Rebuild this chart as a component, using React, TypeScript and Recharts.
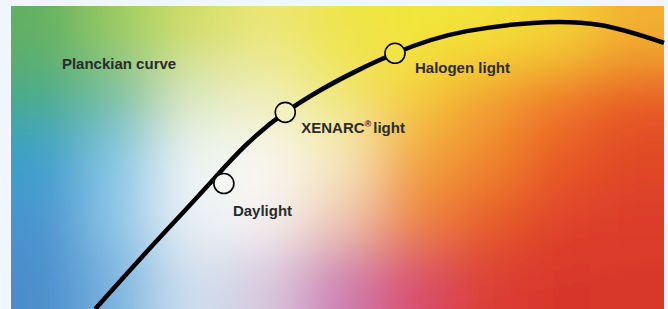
import React from 'react'
import { ComposedChart, Line, XAxis, YAxis, ReferenceDot } from 'recharts'

// Planckian curve, in percent of the colour field (x right, y up)
const curveX = [12.9, 21.3, 30.5, 42.0, 58.8, 69.8, 79.9, 90.2, 100]
const curveY = [0, 20.1, 41.6, 64.9, 84.4, 91.7, 94.4, 93.7, 87.8]

// light sources
const markerNames = ['Daylight', 'XENARC', 'Halogen light']
const markerX = [32.6, 42.0, 58.8]
const markerY = [41.4, 64.9, 84.4]

const titleText = 'Planckian curve'
const titleX = 7.8
const titleY = 79.2

const curveData = curveX.map((x, i) => ({ x, y: curveY[i] }))

// background colour field, rows top to bottom
const fieldColors = [
  ['#62b062', '#9ccc62', '#d2de68', '#ebe678', '#eee44c', '#f2e63a', '#f3e238', '#f3d436', '#f2b033'],
  ['#48ac86', '#78c0a0', '#dce8c0', '#eeeeb8', '#f0e870', '#f4d040', '#f3a232', '#ef7a2a', '#e85a28'],
  ['#3aa0cc', '#84c8e6', '#f0f5f4', '#f8f8f2', '#f5ecc0', '#f3a842', '#ef8a2e', '#e95c28', '#e04a28'],
  ['#4a94d0', '#90c8e8', '#eef3f6', '#f7f4f2', '#f0ccb4', '#ef8a40', '#e8602a', '#e0442a', '#dc3c2a'],
  ['#4a8ecc', '#7ab6e0', '#cfe0ee', '#d8c8de', '#cc80b4', '#d85070', '#dc4036', '#d8362c', '#d8382c'],
]
const markerFill = ['#f7f7f5', '#f3f1c0', '#f1e544']

const W = 668
const H = 309
const FX = 11
const FY = 6
const FW = 653
const FH = 303
const FONT = '"Liberation Sans", Arial, sans-serif'

function Background() {
  const rows = fieldColors.length
  const cols = fieldColors[0].length
  const cw = FW / cols
  const ch = FH / rows
  const cells: React.ReactNode[] = []
  fieldColors.forEach((row, r) =>
    row.forEach((c, k) => {
      let x = FX + k * cw
      let y = FY + r * ch
      let w = cw + 1
      let h = ch + 1
      if (k === 0) { x -= 80; w += 80 }
      if (k === cols - 1) w += 80
      if (r === 0) { y -= 80; h += 80 }
      if (r === rows - 1) h += 80
      cells.push(<rect key={r + '-' + k} x={x} y={y} width={w} height={h} fill={c} />)
    })
  )
  return (
    <svg width={W} height={H} style={{ position: 'absolute', left: 0, top: 0 }}>
      <defs>
        <clipPath id="field">
          <rect x={FX} y={FY} width={FW} height={FH} />
        </clipPath>
        <filter id="soft" x="-50%" y="-50%" width="200%" height="200%">
          <feGaussianBlur stdDeviation="28" />
        </filter>
      </defs>
      <rect width={W} height={H} fill="#eff6fd" />
      <g clipPath="url(#field)">
        <g filter="url(#soft)">{cells}</g>
      </g>
    </svg>
  )
}

const textStyle = { fontFamily: FONT, fontWeight: 700, fontSize: 15, fill: '#2b2b2b' }

function markerLabel(i: number) {
  const offsets = [
    [9, 32],
    [16, 21],
    [20, 20],
  ]
  return (props: any) => {
    const vb = props.viewBox || {}
    const cx = vb.x + (vb.width || 0) / 2
    const cy = vb.y + (vb.height || 0) / 2
    const [dx, dy] = offsets[i]
    if (i === 1) {
      return (
        <text x={cx + dx} y={cy + dy} style={textStyle}>
          {markerNames[i]}
          <tspan fontSize={9} dy={-6}>®</tspan>
          <tspan dx={2} dy={6}>light</tspan>
        </text>
      )
    }
    return (
      <text x={cx + dx} y={cy + dy} style={textStyle}>
        {markerNames[i]}
      </text>
    )
  }
}

function titleLabel(props: any) {
  const vb = props.viewBox || {}
  return (
    <text x={vb.x + (vb.width || 0) / 2} y={vb.y + (vb.height || 0) / 2} style={textStyle}>
      {titleText}
    </text>
  )
}

export default function App() {
  return (
    <div style={{ position: 'relative', width: W, height: H, overflow: 'hidden' }}>
      <style>{'body{margin:0}'}</style>
      <Background />
      <div style={{ position: 'absolute', left: 0, top: 0 }}>
        <ComposedChart
          width={W}
          height={H}
          data={curveData}
          margin={{ top: FY, left: FX, right: W - FX - FW, bottom: 0 }}
        >
          <XAxis type="number" dataKey="x" domain={[0, 100]} hide />
          <YAxis type="number" domain={[0, 100]} hide />
          <Line
            type="natural"
            dataKey="y"
            stroke="#000"
            strokeWidth={4.5}
            dot={false}
            activeDot={false}
            isAnimationActive={false}
          />
          <ReferenceDot x={titleX} y={titleY} r={0} stroke="none" fill="none" label={{ content: titleLabel }} />
          {markerX.map((x, i) => (
            <ReferenceDot
              key={markerNames[i]}
              x={x}
              y={markerY[i]}
              r={10}
              fill={markerFill[i]}
              fillOpacity={1}
              stroke="#000"
              strokeWidth={1.6}
              label={{ content: markerLabel(i) }}
            />
          ))}
        </ComposedChart>
      </div>
    </div>
  )
}
